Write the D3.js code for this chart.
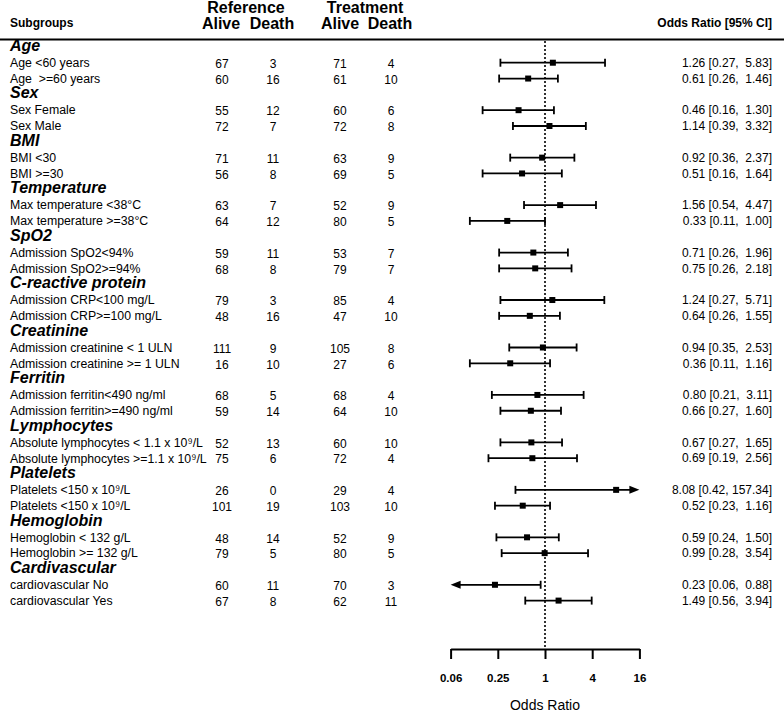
<!DOCTYPE html>
<html>
<head>
<meta charset="utf-8">
<script src="https://cdn.jsdelivr.net/npm/d3@7"></script>
<style>
    body { margin: 0; background: #fff; }
    text { font-family: "Liberation Sans", Arial, Helvetica, sans-serif; fill: #000; white-space: pre; }
</style>
</head>
<body>
<div id="chart"></div>
<script>
// Group headers (bold italic rows)
const groupNames = ["Age", "Sex", "BMI", "Temperature", "SpO2", "C-reactive protein",
    "Creatinine", "Ferritin", "Lymphocytes", "Platelets", "Hemoglobin", "Cardivascular"];

// Two subgroups per group, in order
const subgroupLabels = [
    "Age <60 years", "Age  >=60 years",
    "Sex Female", "Sex Male",
    "BMI <30", "BMI >=30",
    "Max temperature <38°C", "Max temperature >=38°C",
    "Admission SpO2<94%", "Admission SpO2>=94%",
    "Admission CRP<100 mg/L", "Admission CRP>=100 mg/L",
    "Admission creatinine < 1 ULN", "Admission creatinine >= 1 ULN",
    "Admission ferritin<490 ng/ml", "Admission ferritin>=490 ng/ml",
    "Absolute lymphocytes < 1.1 x 10⁹/L", "Absolute lymphocytes >=1.1 x 10⁹/L",
    "Platelets <150 x 10⁹/L", "Platelets <150 x 10⁹/L",
    "Hemoglobin < 132 g/L", "Hemoglobin >= 132 g/L",
    "cardiovascular No", "cardiovascular Yes"
];

const refAlive = [67, 60, 55, 72, 71, 56, 63, 64, 59, 68, 79, 48, 111, 16, 68, 59, 52, 75, 26, 101, 48, 79, 60, 67];
const refDeath = [3, 16, 12, 7, 11, 8, 7, 12, 11, 8, 3, 16, 9, 10, 5, 14, 13, 6, 0, 19, 14, 5, 11, 8];
const trtAlive = [71, 61, 60, 72, 63, 69, 52, 80, 53, 79, 85, 47, 105, 27, 68, 64, 60, 72, 29, 103, 52, 80, 70, 62];
const trtDeath = [4, 10, 6, 8, 9, 5, 9, 5, 7, 7, 4, 10, 8, 6, 4, 10, 10, 4, 4, 10, 9, 5, 3, 11];

const oddsRatio = [1.26, 0.61, 0.46, 1.14, 0.92, 0.51, 1.56, 0.33, 0.71, 0.75, 1.24, 0.64,
    0.94, 0.36, 0.80, 0.66, 0.67, 0.69, 8.08, 0.52, 0.59, 0.99, 0.23, 1.49];
const ciLower = [0.27, 0.26, 0.16, 0.39, 0.36, 0.16, 0.54, 0.11, 0.26, 0.26, 0.27, 0.26,
    0.35, 0.11, 0.21, 0.27, 0.27, 0.19, 0.42, 0.23, 0.24, 0.28, 0.06, 0.56];
const ciUpper = [5.83, 1.46, 1.30, 3.32, 2.37, 1.64, 4.47, 1.00, 1.96, 2.18, 5.71, 1.55,
    2.53, 1.16, 3.11, 1.60, 1.65, 2.56, 157.34, 1.16, 1.50, 3.54, 0.88, 3.94];

// Axis ticks
const axisTicks = [0.0625, 0.25, 1, 4, 16];
const axisTickLabels = ["0.06", "0.25", "1", "4", "16"];

class ForestPlot {
    constructor(_config) {
        this.config = {
            parentElement: _config.parentElement,
            containerWidth: 784,
            containerHeight: 713
        }
        this.initVis();
    }

    initVis() {
        let vis = this;

        vis.svg = d3.select(vis.config.parentElement).append('svg')
            .attr('width', vis.config.containerWidth)
            .attr('height', vis.config.containerHeight);

        // Build row table: header row then two subgroup rows per group
        vis.rows = [];
        groupNames.forEach((g, gi) => {
            vis.rows.push({type: "group", label: g});
            [0, 1].forEach(k => {
                const i = gi * 2 + k;
                vis.rows.push({
                    type: "sub", label: subgroupLabels[i],
                    refAlive: refAlive[i], refDeath: refDeath[i],
                    trtAlive: trtAlive[i], trtDeath: trtDeath[i],
                    or: oddsRatio[i], lo: ciLower[i], hi: ciUpper[i]
                });
            });
        });
        vis.rows.forEach((d, i) => d.index = i);
        const subs = vis.rows.filter(d => d.type === "sub");

        // Scales
        vis.y = d3.scaleLinear()
            .domain([0, vis.rows.length - 1])
            .range([46.9, 600.6]);

        vis.x = d3.scaleLog().base(2)
            .domain([axisTicks[0], axisTicks[axisTicks.length - 1]])
            .range([450.6, 639.4]);

        const colX = {refAlive: 222, refDeath: 273, trtAlive: 340, trtDeath: 391};

        // Header
        const header = vis.svg.append("g").attr("font-weight", "bold");
        header.append("text").attr("x", 10).attr("y", 27).attr("font-size", 12).text("Subgroups");
        header.append("text").attr("x", 246).attr("y", 13).attr("font-size", 16)
            .attr("text-anchor", "middle").text("Reference");
        header.append("text").attr("x", 365).attr("y", 13).attr("font-size", 16)
            .attr("text-anchor", "middle").text("Treatment");
        [["Alive", 221], ["Death", 272], ["Alive", 340], ["Death", 390]]
            .forEach(([t, x]) => {
                header.append("text").attr("x", x).attr("y", 29).attr("font-size", 16)
                    .attr("text-anchor", "middle").text(t);
            });
        header.append("text").attr("x", 772).attr("y", 27).attr("font-size", 12)
            .attr("text-anchor", "end").text("Odds Ratio [95% CI]");

        vis.svg.append("line")
            .attr("x1", 0).attr("x2", vis.config.containerWidth)
            .attr("y1", 39.5).attr("y2", 39.5)
            .attr("stroke", "#000").attr("stroke-width", 2);

        // Group labels
        vis.svg.selectAll("text.group")
            .data(vis.rows.filter(d => d.type === "group"))
            .join("text")
            .attr("class", "group")
            .attr("x", 10)
            .attr("y", d => vis.y(d.index) - 1.5)
            .attr("dy", "0.35em")
            .attr("font-size", 16)
            .attr("font-weight", "bold")
            .attr("font-style", "italic")
            .text(d => d.label);

        // Subgroup labels
        vis.svg.selectAll("text.sub")
            .data(subs)
            .join("text")
            .attr("class", "sub")
            .attr("x", 10)
            .attr("y", d => vis.y(d.index))
            .attr("dy", "0.35em")
            .attr("font-size", 12.3)
            .text(d => d.label);

        // Count columns
        Object.keys(colX).forEach(key => {
            vis.svg.selectAll(`text.col-${key}`)
                .data(subs)
                .join("text")
                .attr("class", `col-${key}`)
                .attr("x", colX[key])
                .attr("y", d => vis.y(d.index) + 1)
                .attr("dy", "0.35em")
                .attr("font-size", 12)
                .attr("text-anchor", "middle")
                .text(d => d[key]);
        });

        // OR text
        vis.svg.selectAll("text.ortext")
            .data(subs)
            .join("text")
            .attr("class", "ortext")
            .attr("x", 772)
            .attr("y", d => vis.y(d.index))
            .attr("dy", "0.35em")
            .attr("font-size", 12)
            .attr("text-anchor", "end")
            .text(d => {
                const hi = d.hi.toFixed(2);
                const pad = d.hi >= 10 ? " " : "  ";
                return `${d.or.toFixed(2)} [${d.lo.toFixed(2)},${pad}${hi}]`;
            });

        // Reference line at OR = 1
        vis.svg.append("line")
            .attr("x1", vis.x(1)).attr("x2", vis.x(1))
            .attr("y1", 41).attr("y2", 649)
            .attr("stroke", "#000")
            .attr("stroke-width", 1.6)
            .attr("stroke-dasharray", "2,2");

        // Confidence intervals
        const [xMin, xMax] = vis.x.domain();
        const ci = vis.svg.append("g").attr("stroke", "#000").attr("stroke-width", 1.8);
        subs.forEach(d => {
            const yy = vis.y(d.index);
            const loClip = d.lo < xMin, hiClip = d.hi > xMax;
            const x1 = vis.x(Math.max(d.lo, xMin));
            const x2 = vis.x(Math.min(d.hi, xMax));
            ci.append("line")
                .attr("x1", loClip ? x1 + 6 : x1).attr("x2", hiClip ? x2 - 6 : x2)
                .attr("y1", yy).attr("y2", yy);
            if (!loClip) {
                ci.append("line").attr("x1", x1).attr("x2", x1).attr("y1", yy - 4).attr("y2", yy + 4);
            } else {
                ci.append("path").attr("stroke", "none").attr("fill", "#000")
                    .attr("d", `M${x1},${yy}L${x1 + 10},${yy - 4}L${x1 + 10},${yy + 4}Z`);
            }
            if (!hiClip) {
                ci.append("line").attr("x1", x2).attr("x2", x2).attr("y1", yy - 4).attr("y2", yy + 4);
            } else {
                ci.append("path").attr("stroke", "none").attr("fill", "#000")
                    .attr("d", `M${x2},${yy}L${x2 - 10},${yy - 4}L${x2 - 10},${yy + 4}Z`);
            }
        });

        // Point estimates
        vis.svg.selectAll("rect.point")
            .data(subs)
            .join("rect")
            .attr("class", "point")
            .attr("x", d => vis.x(d.or) - 3)
            .attr("y", d => vis.y(d.index) - 3)
            .attr("width", 6)
            .attr("height", 6)
            .attr("fill", "#000");

        // X axis
        const axisG = vis.svg.append("g")
            .attr("transform", "translate(0, 649)")
            .call(d3.axisBottom(vis.x)
                .tickValues(axisTicks)
                .tickFormat((d, i) => axisTickLabels[i])
                .tickSizeInner(10)
                .tickSizeOuter(0)
                .tickPadding(15));
        axisG.select(".domain").attr("stroke-width", 2);
        axisG.selectAll(".tick line").attr("stroke-width", 2);
        axisG.selectAll(".tick text")
            .attr("font-size", 11.5)
            .attr("font-weight", "bold")
            .attr("font-family", "Liberation Sans, Arial, sans-serif");

        vis.svg.append("text")
            .attr("x", vis.x(1))
            .attr("y", 710)
            .attr("font-size", 14)
            .attr("text-anchor", "middle")
            .text("Odds Ratio");
    }
}

new ForestPlot({parentElement: "#chart"});
</script>
</body>
</html>
